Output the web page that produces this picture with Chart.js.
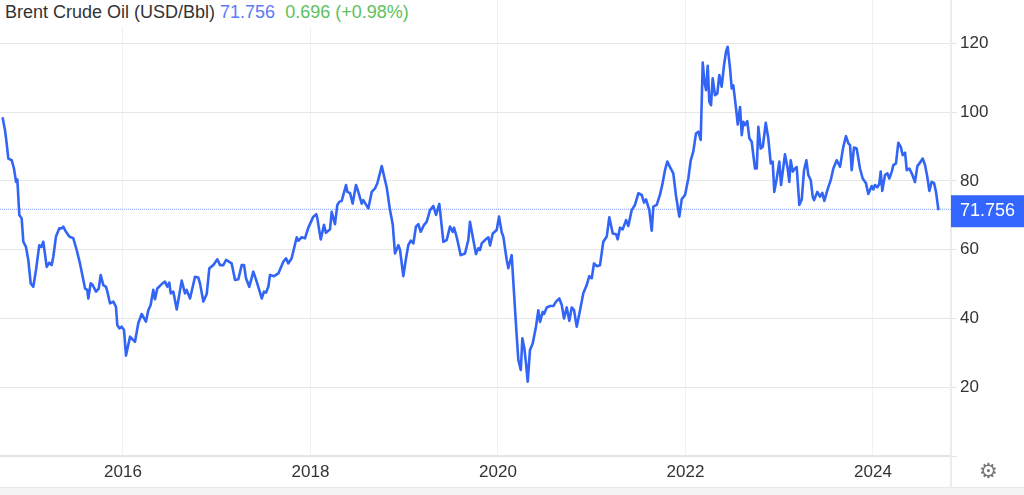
<!DOCTYPE html>
<html><head><meta charset="utf-8">
<script src="https://cdn.jsdelivr.net/npm/chart.js@4.4.1/dist/chart.umd.min.js"></script>
<style>
html,body{margin:0;padding:0;background:#fff;width:1024px;height:495px;overflow:hidden;font-family:"Liberation Sans",Arial,sans-serif;}
#wrap{position:absolute;left:0;top:0;width:1024px;height:487px;}
#title{position:absolute;left:5px;top:0px;font-size:18px;color:#333;background:#fff;padding-right:6px;height:27px;line-height:25px;white-space:nowrap;}
#title .v{color:#5a7bf6;}
#title .c{color:#5cc25c;margin-left:5px;}
#footer{position:absolute;left:0;top:487px;width:1024px;height:8px;background:#f4f4f4;border-top:1px solid #e9e9e9;}
#gear{position:absolute;left:979px;top:459px;font-size:21px;line-height:24px;color:#777;font-family:"DejaVu Sans",sans-serif;}
</style></head>
<body>
<div id="wrap"><canvas id="c"></canvas></div>
<div id="title">Brent Crude Oil (USD/Bbl) <span class="v">71.756</span> <span class="c">0.696 (+0.98%)</span></div>
<div id="gear">⚙</div>
<div id="footer"></div>
<script>
const dates = [
2014.717,2014.741,2014.759,2014.777,2014.813,2014.837,2014.859,2014.873,2014.894,2014.919,2014.937,2014.965,2014.990,
2015.015,2015.043,2015.072,2015.107,2015.129,2015.150,2015.186,2015.214,2015.239,2015.257,2015.285,2015.321,2015.346,2015.363,2015.392,2015.427,2015.470,2015.506,2015.541,2015.577,2015.595,2015.619,2015.630,2015.655,2015.677,2015.712,2015.741,2015.762,2015.790,2015.819,2015.833,2015.861,2015.897,2015.925,2015.939,2015.961,2015.986,
2016.011,2016.032,2016.075,2016.128,2016.163,2016.199,2016.245,2016.270,2016.295,2016.323,2016.341,2016.366,2016.413,2016.448,2016.473,2016.494,2016.509,2016.537,2016.573,2016.626,2016.661,2016.679,2016.715,2016.768,2016.803,2016.821,2016.857,2016.893,2016.921,2016.963,
2017.006,2017.035,2017.070,2017.099,2017.159,2017.195,2017.230,2017.266,2017.291,2017.312,2017.347,2017.390,2017.426,2017.480,2017.504,2017.525,2017.550,2017.568,2017.611,2017.657,2017.710,2017.739,2017.763,2017.799,2017.853,2017.870,2017.906,2017.941,2017.977,
2018.030,2018.062,2018.073,2018.109,2018.144,2018.165,2018.208,2018.226,2018.261,2018.286,2018.307,2018.333,2018.379,2018.393,2018.421,2018.450,2018.485,2018.510,2018.546,2018.563,2018.617,2018.653,2018.688,2018.713,2018.760,2018.813,2018.848,2018.877,2018.901,2018.937,2018.955,2018.990,
2019.019,2019.043,2019.069,2019.097,2019.125,2019.150,2019.176,2019.211,2019.239,2019.275,2019.310,2019.339,2019.374,2019.400,2019.417,2019.453,2019.488,2019.517,2019.531,2019.560,2019.602,2019.648,2019.683,2019.701,2019.737,2019.765,2019.790,2019.808,2019.826,2019.861,2019.897,2019.915,2019.944,2019.986,
2020.011,2020.040,2020.057,2020.093,2020.110,2020.146,2020.171,2020.200,2020.217,2020.243,2020.260,2020.281,2020.299,2020.317,2020.341,2020.370,2020.405,2020.430,2020.448,2020.477,2020.491,2020.520,2020.555,2020.590,2020.619,2020.654,2020.680,2020.704,2020.733,2020.761,2020.786,2020.811,2020.840,2020.875,2020.910,2020.946,2020.974,
2021.000,2021.024,2021.053,2021.088,2021.123,2021.160,2021.187,2021.224,2021.259,2021.277,2021.301,2021.330,2021.366,2021.390,2021.426,2021.461,2021.497,2021.533,2021.558,2021.579,2021.614,2021.640,2021.657,2021.693,2021.728,2021.757,2021.781,2021.806,2021.835,2021.870,2021.899,2021.934,2021.960,2021.995,
2022.030,2022.056,2022.083,2022.112,2022.137,2022.162,2022.184,2022.201,2022.219,2022.237,2022.254,2022.272,2022.290,2022.315,2022.339,2022.361,2022.386,2022.411,2022.432,2022.450,2022.475,2022.493,2022.510,2022.539,2022.557,2022.582,2022.600,2022.617,2022.635,2022.659,2022.681,2022.706,2022.741,2022.760,2022.777,2022.802,2022.824,2022.856,2022.883,2022.909,2022.930,2022.947,2022.973,
2023.001,2023.019,2023.061,2023.090,2023.107,2023.122,2023.144,2023.168,2023.186,2023.214,2023.240,2023.264,2023.289,2023.310,2023.336,2023.357,2023.371,2023.406,2023.435,2023.459,2023.481,2023.513,2023.549,2023.577,2023.613,2023.648,2023.683,2023.712,2023.737,2023.755,2023.773,2023.797,2023.826,2023.861,2023.890,2023.925,2023.950,2023.986,
2024.003,2024.021,2024.046,2024.067,2024.082,2024.099,2024.128,2024.153,2024.174,2024.200,2024.217,2024.245,2024.270,2024.296,2024.317,2024.342,2024.360,2024.388,2024.413,2024.448,2024.473,2024.501,2024.530,2024.555,2024.579,2024.601,2024.626,2024.651,2024.672,2024.697
];
const prices = [
98.2,94.8,90.9,86.5,86.0,83.6,79.7,80.4,70.1,69.1,62.3,60.8,57.0,
50.2,49.2,54.1,61.3,60.8,62.3,55.0,56.2,55.5,58.0,63.8,66.2,66.2,66.7,65.2,63.8,63.3,59.9,56.0,51.2,48.7,48.3,45.8,50.2,49.7,47.8,48.7,52.6,49.7,49.2,47.8,44.4,44.9,43.4,38.1,37.1,37.6,
36.6,29.2,34.7,33.2,38.6,41.3,39.1,42.4,43.9,48.3,45.6,48.7,50.0,50.7,49.2,50.4,47.3,47.8,42.6,51.0,47.3,48.3,45.8,52.1,51.9,50.2,44.9,47.1,54.6,55.5,
57.2,55.5,55.5,57.0,56.0,51.2,51.4,55.5,55.5,51.7,49.2,53.6,50.7,45.8,47.8,47.5,49.2,52.6,52.3,53.1,56.5,57.5,56.0,57.5,63.6,62.6,63.6,63.3,66.4,
69.6,70.3,69.1,63.0,67.2,64.9,65.9,71.0,67.4,73.0,73.9,74.2,78.8,76.8,76.5,73.4,78.8,76.8,73.4,74.4,72.0,76.8,77.8,79.3,84.3,78.1,71.5,67.4,58.9,61.3,59.9,52.3,
57.5,61.3,62.6,61.8,66.7,67.4,65.2,67.2,68.1,71.5,72.7,70.1,73.3,66.7,62.3,62.8,66.7,65.2,66.4,63.6,58.4,58.9,62.8,68.1,62.8,58.7,60.4,59.9,61.8,62.8,63.6,61.2,64.7,65.7,
69.6,65.0,63.8,57.0,54.6,58.4,47.3,34.7,27.9,25.0,34.2,31.3,26.9,21.6,30.8,32.7,37.6,42.4,39.0,41.9,41.3,43.2,43.6,43.6,44.9,45.8,43.9,40.0,43.2,39.3,43.2,42.4,37.6,42.4,47.3,49.7,52.3,
51.7,56.0,55.2,55.5,62.3,63.8,69.4,64.7,64.5,63.0,66.4,65.9,68.6,66.9,71.5,73.0,76.4,75.9,73.7,74.6,71.5,65.5,72.5,73.0,76.0,79.5,83.1,85.6,84.0,82.2,75.6,69.6,74.7,75.9,
80.7,86.0,88.5,93.8,94.3,91.9,114.4,108.9,106.4,113.5,103.0,102.0,109.8,104.9,105.4,110.8,107.4,113.7,117.5,119.0,112.7,106.9,107.8,101.1,96.4,101.5,93.3,97.2,96.2,97.4,92.4,91.4,83.6,83.6,95.7,89.4,89.9,96.9,92.4,85.1,85.6,76.8,80.7,
85.6,78.8,87.7,83.6,79.7,86.0,82.7,83.6,84.0,73.0,74.6,83.0,86.0,81.7,80.2,75.4,74.4,76.8,75.4,76.5,74.2,77.3,80.2,83.6,86.0,84.1,89.9,93.0,90.9,90.4,83.1,89.7,89.4,83.6,80.7,79.3,76.2,78.5,
77.5,78.8,78.1,79.1,82.7,77.1,81.7,82.2,80.7,82.7,84.6,85.1,91.1,89.9,87.5,88.2,83.1,83.6,82.2,79.7,84.3,85.3,86.5,84.6,81.2,77.1,79.7,79.4,76.8,71.756
];
const yearTicks = [2016, 2018, 2020, 2022, 2024];
const priceTicks = [20, 40, 60, 80, 100, 120];
const lastPrice = prices[prices.length - 1];

const FONT = '"Liberation Sans", Arial, sans-serif';
const xMin = 2014.688, xMax = 2024.832;

const lastBox = {
  id: 'lastBox',
  afterDraw(chart) {
    const {ctx, chartArea} = chart;
    const y = chart.scales.y.getPixelForValue(lastPrice);
    ctx.save();
    ctx.strokeStyle = '#ececec';
    ctx.lineWidth = 2;
    ctx.beginPath();
    ctx.moveTo(chartArea.right, chartArea.bottom);
    ctx.lineTo(chartArea.right, chart.height);
    ctx.stroke();
    ctx.fillStyle = '#3366ff';
    ctx.fillRect(chartArea.right, y - 14, chart.width - chartArea.right, 32);
    ctx.fillStyle = '#ffffff';
    ctx.font = '18px ' + FONT;
    ctx.textBaseline = 'middle';
    ctx.textAlign = 'left';
    ctx.fillText(lastPrice.toFixed(3), chartArea.right + 9, y + 2);
    ctx.restore();
  }
};

new Chart(document.getElementById('c'), {
  type: 'line',
  data: {
    datasets: [
      {
        data: dates.map((d, i) => ({x: d, y: prices[i]})),
        borderColor: '#3265f5',
        borderWidth: 2.6,
        pointRadius: 0,
        tension: 0,
        borderJoinStyle: 'round',
        borderCapStyle: 'round',
        fill: false
      },
      {
        data: [{x: xMin, y: lastPrice}, {x: xMax, y: lastPrice}],
        borderColor: '#7f9bff',
        borderWidth: 1,
        borderDash: [1, 1],
        pointRadius: 0,
        fill: false
      }
    ]
  },
  options: {
    responsive: true,
    maintainAspectRatio: false,
    animation: false,
    devicePixelRatio: 1,
    layout: {padding: 0},
    plugins: {legend: {display: false}, tooltip: {enabled: false}, title: {display: false}},
    scales: {
      x: {
        type: 'linear',
        min: xMin,
        max: xMax,
        afterBuildTicks: s => { s.ticks = yearTicks.map(v => ({value: v})); },
        afterFit: s => { s.height = 31; s.paddingLeft = 0; s.paddingRight = 0; },
        grid: {color: '#eef2f6', lineWidth: 1, drawTicks: false},
        border: {color: '#e4e4e4', width: 2},
        ticks: {padding: 6, color: '#333', font: {size: 17, family: FONT}, callback: v => String(v), maxRotation: 0}
      },
      y: {
        position: 'right',
        min: 0,
        max: 132.6,
        afterBuildTicks: s => { s.ticks = [0].concat(priceTicks).map(v => ({value: v})); },
        afterFit: s => { s.width = 73; s.paddingTop = 0; s.paddingBottom = 0; },
        grid: {color: '#e6e6e6', lineWidth: 1, tickLength: 6},
        border: {color: '#ececec', width: 2},
        ticks: {padding: 3, color: '#333', font: {size: 17, family: FONT}, callback: v => v === 0 ? '' : String(v)}
      }
    }
  },
  plugins: [lastBox]
});
</script>
</body></html>
